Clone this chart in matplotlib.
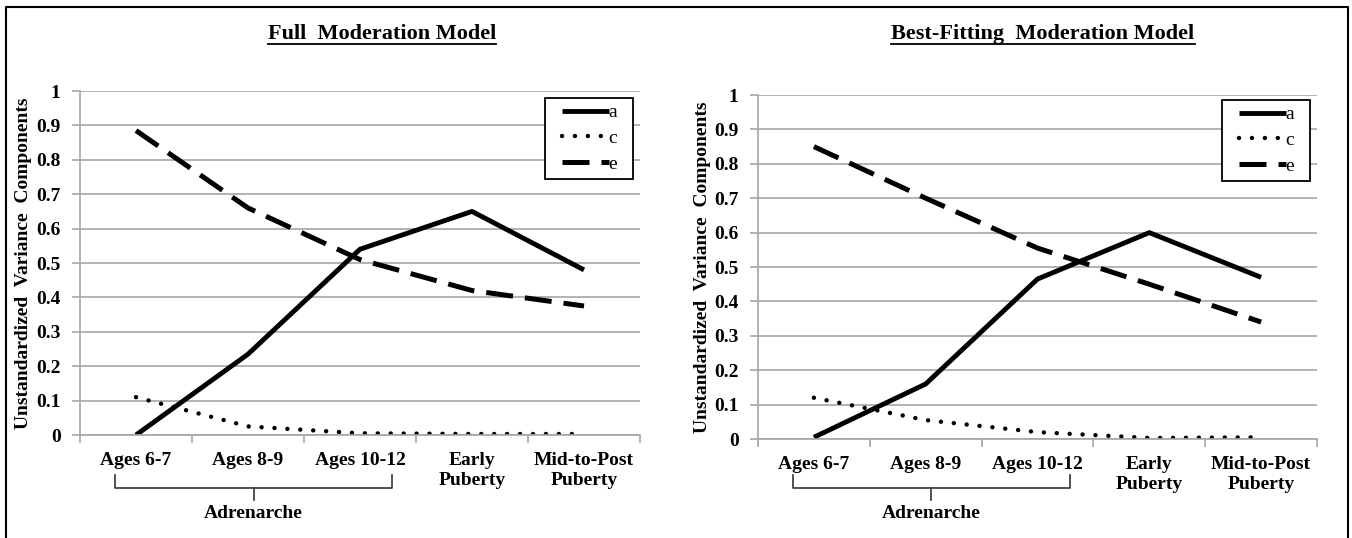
import matplotlib
matplotlib.use("Agg")
import matplotlib.pyplot as plt
from matplotlib.lines import Line2D
from matplotlib.legend_handler import HandlerLine2D
from matplotlib.transforms import blended_transform_factory

plt.rcParams["font.family"] = ["Liberation Serif", "DejaVu Serif"]

categories = ["Ages 6-7", "Ages 8-9", "Ages 10-12", "Early\nPuberty", "Mid-to-Post\nPuberty"]
yticks = [0, 0.1, 0.2, 0.3, 0.4, 0.5, 0.6, 0.7, 0.8, 0.9, 1]
ytick_labels = ["0", "0.1", "0.2", "0.3", "0.4", "0.5", "0.6", "0.7", "0.8", "0.9", "1"]

full_a = [0.0, 0.235, 0.54, 0.65, 0.48]
full_c = [0.11, 0.025, 0.005, 0.003, 0.003]
full_e = [0.885, 0.66, 0.51, 0.42, 0.375]

best_a = [0.005, 0.16, 0.465, 0.60, 0.47]
best_c = [0.12, 0.055, 0.02, 0.003, 0.005]
best_e = [0.85, 0.70, 0.555, 0.45, 0.34]

titles = ["Full  Moderation Model", "Best-Fitting  Moderation Model"]
ylabel = "Unstandardized  Variance  Components"
bracket_label = "Adrenarche"

W, H = 1352, 538
GRID = "#a6a6a6"


def fx(px):
    return px / W


def fy(py):
    return 1 - py / H


def draw_panel(fig, rect, a, c, e, title, title_x, legend_xy, ylab_x):
    ax = fig.add_axes(rect)
    x = list(range(len(categories)))
    la, = ax.plot(x, a, color="black", lw=3.5, solid_capstyle="butt")
    lc, = ax.plot(x, c, color="black", lw=3.2, linestyle=(0, (0.01, 2.9)),
                  dash_capstyle="round")
    le, = ax.plot(x, e, color="black", lw=3.6, linestyle=(0, (5.4, 2.4)),
                  dash_capstyle="butt")

    ax.set_xlim(-0.5, len(categories) - 0.5)
    ax.set_ylim(0, 1)
    ax.set_yticks(yticks)
    ax.set_yticklabels(ytick_labels, fontsize=14, fontweight="bold")
    ax.grid(axis="y", color=GRID, lw=1.2)
    ax.set_axisbelow(True)

    ax.set_xticks([i - 0.5 for i in range(len(categories) + 1)])
    ax.set_xticklabels([])
    ax.set_xticks(x, minor=True)
    ax.set_xticklabels(categories, minor=True, fontsize=14, fontweight="bold",
                       va="top", linespacing=1.25)
    ax.tick_params(axis="x", which="major", length=6, color=GRID, width=1.2)
    ax.tick_params(axis="x", which="minor", length=0, pad=12)
    ax.tick_params(axis="y", length=6, color=GRID, width=1.2, pad=8)
    for s in ("top", "right"):
        ax.spines[s].set_visible(False)
    for s in ("left", "bottom"):
        ax.spines[s].set_color(GRID)
        ax.spines[s].set_linewidth(1.2)

    hl = HandlerLine2D(xpad=0.6)
    leg = ax.legend([la, lc, le], ["a  ", "c  ", "e  "],
                    handler_map={la: hl, lc: hl, le: hl},
                    loc="upper right", bbox_to_anchor=legend_xy,
                    bbox_transform=fig.transFigure, fontsize=14,
                    handlelength=3.0, handletextpad=0.0, borderpad=0.3,
                    labelspacing=0.42, borderaxespad=0, fancybox=False,
                    framealpha=1, edgecolor="black")
    leg.get_frame().set_linewidth(1.3)

    fig.text(fx(ylab_x), rect[1] + rect[3] / 2, ylabel, rotation=90,
             ha="center", va="center", fontsize=14, fontweight="bold")

    t = fig.text(fx(title_x), fy(34), title, ha="center", va="center",
                 fontsize=16, fontweight="bold")

    # bracket under the adrenarche ages
    tr = blended_transform_factory(ax.transData, fig.transFigure)
    x0, x1 = -0.19, 2.29
    xm = (x0 + x1) / 2
    y_top, y_mid, y_low = fy(475), fy(488), fy(500)
    ax.add_line(Line2D([x0, x0, x1, x1], [y_top, y_mid, y_mid, y_top],
                       transform=tr, color="#333333", lw=1.2, clip_on=False))
    ax.add_line(Line2D([xm, xm], [y_mid, y_low], transform=tr,
                       color="#333333", lw=1.2, clip_on=False))
    ax.text(xm, fy(513), bracket_label, transform=tr, ha="center",
            va="center", fontsize=14, fontweight="bold")
    return ax, t


fig = plt.figure(figsize=(W / 100, H / 100), dpi=100)

ax1, t1 = draw_panel(fig, [fx(80), fy(435), fx(560), 344 / H],
                     full_a, full_c, full_e, titles[0], 382,
                     (fx(633), fy(98)), 24)
ax2, t2 = draw_panel(fig, [fx(758), fy(439), fx(559), 344 / H],
                     best_a, best_c, best_e, titles[1], 1043,
                     (fx(1310), fy(100)), 702)

# underline the titles
fig.canvas.draw()
r = fig.canvas.get_renderer()
for t in (t1, t2):
    bb = t.get_window_extent(r).transformed(fig.transFigure.inverted())
    fig.add_artist(Line2D([bb.x0, bb.x1], [fy(44), fy(44)], color="black",
                          lw=1.3, transform=fig.transFigure))

# outer frame (left, top, right)
fig.add_artist(Line2D([fx(6), fx(6), fx(1348), fx(1348)],
                      [0, fy(7), fy(7), 0], color="black", lw=1.5,
                      transform=fig.transFigure))

fig.savefig("out.png", dpi=100)
